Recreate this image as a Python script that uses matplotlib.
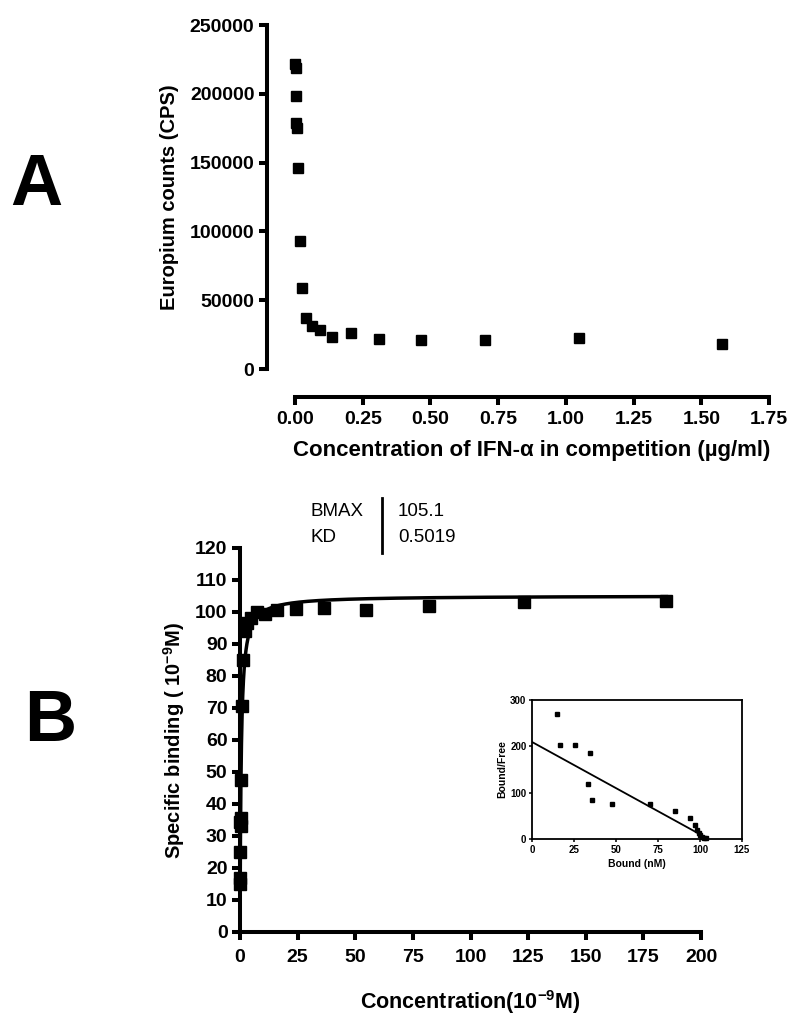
import numpy as np
import matplotlib
matplotlib.use("Agg")
import matplotlib.pyplot as plt

plt.rcParams['font.family'] = ['Liberation Sans', 'DejaVu Sans']
plt.rcParams['mathtext.fontset'] = 'custom'
plt.rcParams['mathtext.rm'] = 'Liberation Sans:bold'
plt.rcParams['mathtext.default'] = 'rm'

# panel A: competition assay
conc_a = [0.0016, 0.0024, 0.0036, 0.0054, 0.0081, 0.0121, 0.0182, 0.0273,
          0.041, 0.0615, 0.092, 0.138, 0.207, 0.311, 0.467, 0.70, 1.05, 1.575]
counts_a = [222000, 218500, 198500, 179000, 175000, 146000, 93000, 59000,
            37000, 31000, 28000, 23500, 26000, 22000, 21000, 21000, 22800, 18500]

# panel B: saturation binding
conc_b = [0.055, 0.083, 0.125, 0.185, 0.28, 0.42, 0.63, 0.95, 1.4, 2.1, 3.2,
          4.8, 7.2, 10.8, 16.2, 24.4, 36.5, 54.8, 82, 123, 185]
bound_b = [15, 17, 25, 34.5, 33, 35.5, 47.5, 70.5, 85, 94, 96.5,
           98, 100, 99.3, 100.5, 101, 101.2, 100.5, 102, 103, 103.5]
BMAX = 105.1
KD = 0.5019

# inset: Scatchard plot
sc_bound = [14.9, 16.9, 25.5, 34.4, 33.4, 35.8, 47.8, 70.5, 85, 94.1, 97.1,
            98.1, 99.5, 100.1, 101, 102.5, 103.7]
sc_ratio = [270, 203, 203, 185, 119, 85, 76, 75, 60, 45, 30,
            20, 14, 9, 4.5, 2.2, 1.4]

LW = 2.9
W, H = 800, 1024
fig = plt.figure(figsize=(8, 10.24), dpi=100)

def frac(l, t, r, b):
    return [l / W, 1 - b / H, (r - l) / W, (b - t) / H]

def style(ax, pad=3):
    for s in ['top', 'right']:
        ax.spines[s].set_visible(False)
    for s in ['left', 'bottom']:
        ax.spines[s].set_linewidth(LW)
        ax.spines[s].set_capstyle('projecting')
    ax.tick_params(direction='out', length=6, width=LW, labelsize=14, pad=pad)
    for lab in ax.get_xticklabels() + ax.get_yticklabels():
        lab.set_fontweight('bold')

# ---- A ----
axA = fig.add_axes(frac(267, 25, 769, 397))
ymin_a = -28 / 344 * 250000
xmin_a = -28 / 474 * 1.75
axA.set_xlim(xmin_a, 1.75)
axA.set_ylim(ymin_a, 250000)
axA.spines['bottom'].set_bounds(0, 1.75)
axA.spines['left'].set_bounds(0, 250000)
axA.set_xticks(np.arange(0, 1.76, 0.25))
axA.set_xticklabels(['%.2f' % v for v in np.arange(0, 1.76, 0.25)])
axA.set_yticks(np.arange(0, 250001, 50000))
axA.set_yticklabels([str(int(v)) for v in np.arange(0, 250001, 50000)])
style(axA)
axA.tick_params(axis='x', pad=4)
axA.plot(conc_a, counts_a, 's', color='black', markersize=7.5, clip_on=False)
axA.set_ylabel('Europium counts (CPS)', fontsize=14.5, fontweight='bold', labelpad=8,
               y=(125000 - ymin_a) / (250000 - ymin_a))
axA.set_xlabel('Concentration of IFN-α in competition (µg/ml)', fontsize=16,
               fontweight='bold', labelpad=9, x=(0.875 - xmin_a) / (1.75 - xmin_a))

# ---- B ----
axB = fig.add_axes(frac(240, 548, 701, 932))
axB.set_xlim(0, 200)
axB.set_ylim(0, 120)
axB.set_xticks(np.arange(0, 201, 25))
axB.set_yticks(np.arange(0, 121, 10))
style(axB)
axB.tick_params(axis='x', pad=6)
xc = np.concatenate([np.linspace(0, 5, 400), np.linspace(5, 185, 400)])
axB.plot(xc, BMAX * xc / (KD + xc), color='black', lw=2.5, clip_on=False)
axB.plot(conc_b, bound_b, 's', color='black', markersize=8, clip_on=False)
axB.set_ylabel('Specific binding ( 10$^{-9}$M)', fontsize=14.5, fontweight='bold', labelpad=6)
axB.set_xlabel('Concentration(10$^{-9}$M)', fontsize=15.5, fontweight='bold', labelpad=16)

# fit table
fig.text(310 / W, 1 - 511 / H, 'BMAX', fontsize=13.5, va='center')
fig.text(310 / W, 1 - 537 / H, 'KD', fontsize=13.5, va='center')
fig.text(398 / W, 1 - 511 / H, '105.1', fontsize=13.5, va='center')
fig.text(398 / W, 1 - 537 / H, '0.5019', fontsize=13.5, va='center')
fig.add_artist(plt.Line2D([382 / W, 382 / W], [1 - 498 / H, 1 - 553 / H],
                          color='black', lw=2))

# ---- inset ----
axI = fig.add_axes(frac(532, 700, 742, 839))
axI.set_xlim(0, 125)
axI.set_ylim(0, 300)
axI.set_xticks(np.arange(0, 126, 25))
axI.set_yticks([0, 100, 200, 300])
for s in axI.spines.values():
    s.set_linewidth(1.3)
axI.tick_params(direction='out', length=2.5, width=1.1, labelsize=7, pad=1.5)
for lab in axI.get_xticklabels() + axI.get_yticklabels():
    lab.set_fontweight('bold')
xl = np.array([0, 100])
axI.plot(xl, BMAX / KD - xl / KD, color='black', lw=1.3)
axI.plot(sc_bound, sc_ratio, 's', color='black', markersize=3.5, clip_on=False)
axI.set_xlabel('Bound (nM)', fontsize=7.5, fontweight='bold', labelpad=3)
axI.set_ylabel('Bound/Free', fontsize=7.5, fontweight='bold', labelpad=2)

# panel letters
fig.text(36 / W, 1 - 186 / H, 'A', fontsize=52, fontweight='bold', ha='center', va='center')
fig.text(50 / W, 1 - 722 / H, 'B', fontsize=52, fontweight='bold', ha='center', va='center')

fig.savefig('out.png', dpi=100)
